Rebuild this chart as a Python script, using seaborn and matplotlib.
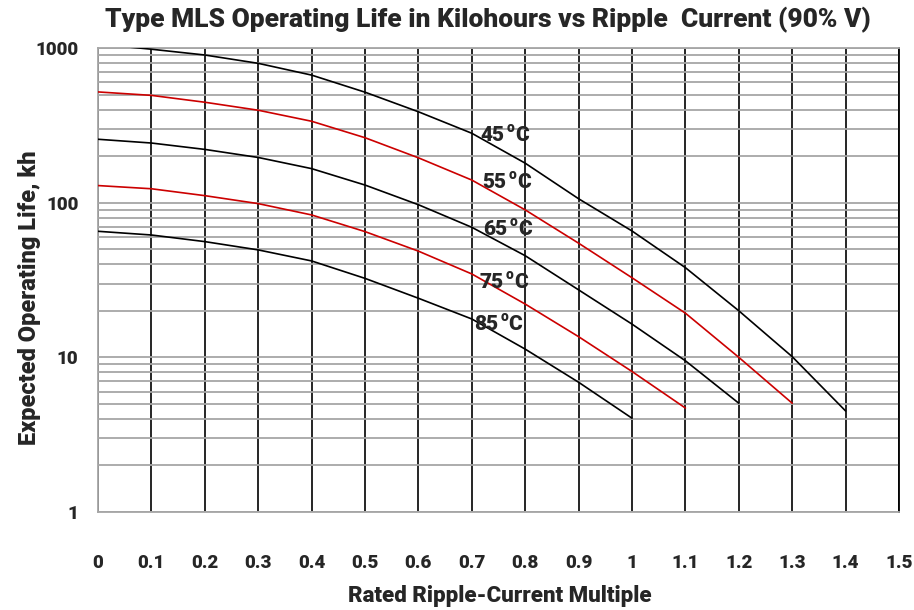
import numpy as np
import pandas as pd
import matplotlib
matplotlib.use("Agg")
import matplotlib.pyplot as plt
from matplotlib.ticker import LogLocator, FixedLocator, NullFormatter
import seaborn as sns

# ---- data ----
x_45 = [0.0, 0.1, 0.2, 0.3, 0.4, 0.5, 0.6, 0.7, 0.8, 0.9, 1.0, 1.1, 1.2, 1.3, 1.4]
y_45 = [1060, 982, 901, 796, 668, 518, 387, 281, 180, 106, 65.6, 38, 20, 10.1, 4.5]
x_55 = [0.0, 0.1, 0.2, 0.3, 0.4, 0.5, 0.6, 0.7, 0.8, 0.9, 1.0, 1.1, 1.2, 1.3]
y_55 = [520, 494, 446, 396, 336, 263, 195, 140, 89.8, 54.7, 32.7, 19.3, 10.0, 5.05]
x_65 = [0.0, 0.1, 0.2, 0.3, 0.4, 0.5, 0.6, 0.7, 0.8, 0.9, 1.0, 1.1, 1.2]
y_65 = [257, 243, 221, 196, 166, 130, 97, 69.3, 45.4, 27.3, 16.4, 9.5, 5.05]
x_75 = [0.0, 0.1, 0.2, 0.3, 0.4, 0.5, 0.6, 0.7, 0.8, 0.9, 1.0, 1.1]
y_75 = [129, 123, 111, 98.6, 83.3, 65, 48.6, 34.6, 22.1, 13.6, 8.1, 4.7]
x_85 = [0.0, 0.1, 0.2, 0.3, 0.4, 0.5, 0.6, 0.7, 0.8, 0.9, 1.0]
y_85 = [65.3, 61.8, 56, 49.5, 42, 32.4, 24.1, 17.7, 11.3, 6.9, 4.04]

temps = ["45", "55", "65", "75", "85"]
x_ticks = [0, 0.1, 0.2, 0.3, 0.4, 0.5, 0.6, 0.7, 0.8, 0.9, 1.0, 1.1, 1.2, 1.3, 1.4, 1.5]
x_tick_labels = ["0", "0.1", "0.2", "0.3", "0.4", "0.5", "0.6", "0.7", "0.8", "0.9",
                 "1", "1.1", "1.2", "1.3", "1.4", "1.5"]
y_ticks = [1, 10, 100, 1000]
y_tick_labels = ["1", "10", "100", "1000"]

title = "Type MLS Operating Life in Kilohours vs Ripple  Current (90% V)"
xlabel = "Rated Ripple-Current Multiple"
ylabel = "Expected Operating Life, kh"

frames = []
for t, xs, ys in zip(temps, [x_45, x_55, x_65, x_75, x_85], [y_45, y_55, y_65, y_75, y_85]):
    frames.append(pd.DataFrame({"x": xs, "y": ys, "temp": t}))
df = pd.concat(frames, ignore_index=True)

sns.set_style("white")
FONT = "Roboto"
W = "black"
plt.rcParams["font.family"] = [FONT, "DejaVu Sans"]
plt.rcParams["font.weight"] = W

fig = plt.figure(figsize=(9.14, 6.10), dpi=100)
ax = fig.add_axes([98 / 914, 1 - 512 / 610, (899 - 98) / 914, (512 - 48) / 610])

palette = {"45": "#000000", "55": "#cc0000", "65": "#000000", "75": "#cc0000", "85": "#000000"}
sns.lineplot(data=df, x="x", y="y", hue="temp", palette=palette, ax=ax,
             legend=False, linewidth=1.2, zorder=5)

ax.set_yscale("log")
ax.set_xlim(0, 1.5)
ax.set_ylim(1, 1000)

# grid
ax.yaxis.set_major_locator(FixedLocator(y_ticks))
ax.yaxis.set_minor_locator(LogLocator(base=10, subs=np.arange(2, 10)))
ax.yaxis.set_minor_formatter(NullFormatter())
ax.set_yticklabels(y_tick_labels)
ax.set_xticks(x_ticks)
ax.set_xticklabels(x_tick_labels)
ax.grid(True, which="both", axis="y", color="#a6a6a6", linewidth=1.3, zorder=1)
ax.grid(True, which="major", axis="x", color="#000000", linewidth=1.2, zorder=2)
ax.set_axisbelow(True)

for side in ["left", "top", "bottom"]:
    ax.spines[side].set_color("#a6a6a6")
    ax.spines[side].set_linewidth(1.3)
ax.spines["right"].set_color("#000000")
ax.spines["right"].set_linewidth(1.3)

ax.tick_params(axis="both", which="both", length=0)
ax.tick_params(axis="x", pad=30, labelsize=13.5)
ax.tick_params(axis="y", pad=14, labelsize=13.5)
for lab in ax.get_xticklabels() + ax.get_yticklabels():
    lab.set_fontweight(W)

ax.set_xlabel("")
ax.set_ylabel("")
fig.text(500 / 914, 1 - 596 / 610, xlabel, ha="center", va="center", fontsize=16, fontweight=W)
fig.text(30 / 914, 1 - 298 / 610, ylabel, ha="center", va="center", rotation=90,
         fontsize=17, fontweight=W)
fig.text(488 / 914, 1 - 20 / 610, title, ha="center", va="center", fontsize=19, fontweight=W)

# curve labels: number, raised small "o", then "C"
label_pos = [(0.716, 134), (0.72, 181), (0.722, 228), (0.714, 281), (0.704, 323)]
fig.canvas.draw()
for t, (lx, lyp) in zip(temps, label_pos):
    yv = 10 ** (3 - (lyp + 7 - 48) / 154.7)   # baseline of the label
    num = ax.text(lx, yv, t, fontsize=15, fontweight=W, ha="left", va="baseline", zorder=6)
    bb = num.get_window_extent(renderer=fig.canvas.get_renderer())
    w_pt = bb.width * 72 / fig.dpi
    o = ax.annotate("o", xy=(lx, yv), xycoords="data", xytext=(w_pt + 1.5, 6.5),
                    textcoords="offset points", fontsize=10, fontweight=W,
                    ha="left", va="baseline", zorder=6)
    bo = o.get_window_extent(renderer=fig.canvas.get_renderer())
    wo_pt = bo.width * 72 / fig.dpi
    ax.annotate("C", xy=(lx, yv), xycoords="data", xytext=(w_pt + 1.5 + wo_pt + 0.5, 0),
                textcoords="offset points", fontsize=15, fontweight=W,
                ha="left", va="baseline", zorder=6)

fig.savefig("out.png", dpi=100)
